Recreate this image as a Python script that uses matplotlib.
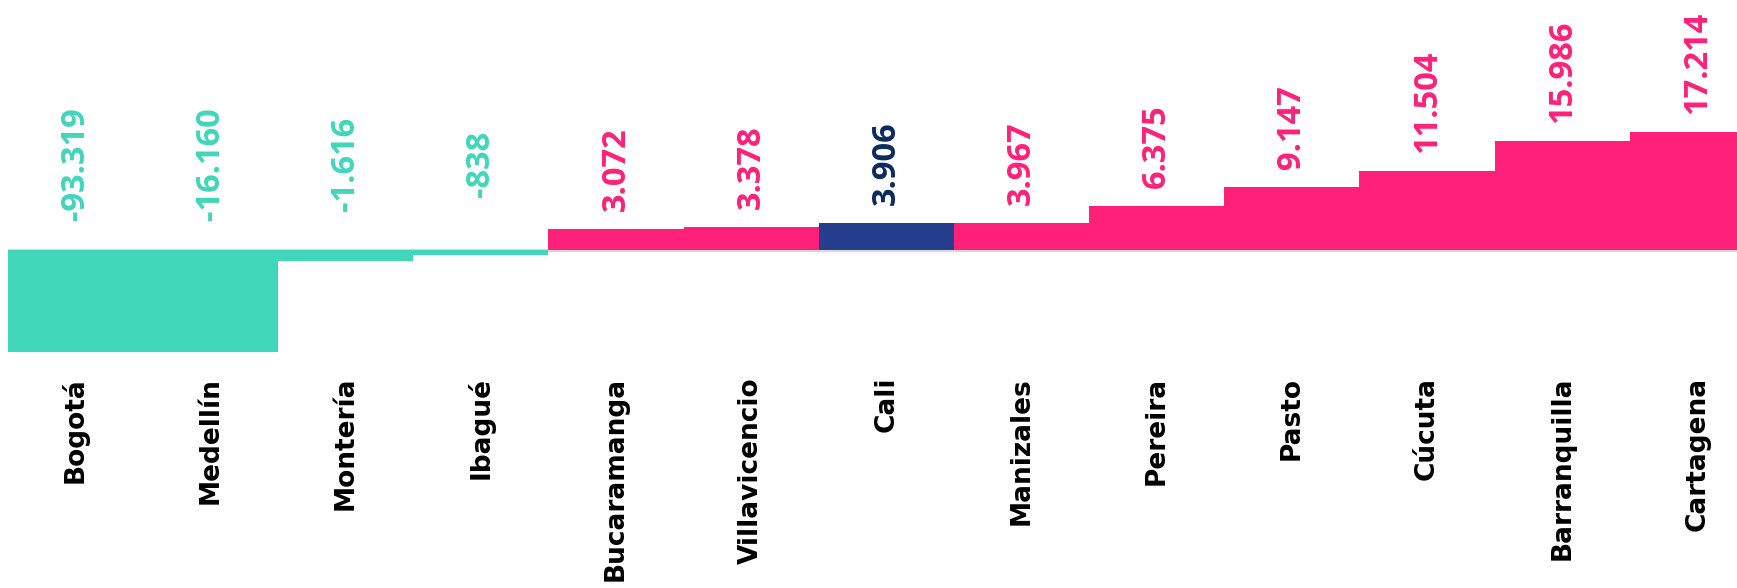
import matplotlib
matplotlib.use("Agg")
import matplotlib.pyplot as plt

# Variación por ciudad
ciudades = ["Bogotá", "Medellín", "Montería", "Ibagué", "Bucaramanga", "Villavicencio",
            "Cali", "Manizales", "Pereira", "Pasto", "Cúcuta", "Barranquilla", "Cartagena"]
valores = [-93319, -16160, -1616, -838, 3072, 3378, 3906, 3967, 6375, 9147, 11504, 15986, 17214]

TEAL = "#40D6BA"
PINK = "#FF2079"
NAVY = "#253F8E"
NAVY_TXT = "#0B2A5E"
DESTACADA = "Cali"


def fmt_miles(v):
    return f"{v:,}".replace(",", ".")


def colores(ciudad, v):
    if ciudad == DESTACADA:
        return NAVY, NAVY_TXT
    if v < 0:
        return TEAL, TEAL
    return PINK, PINK


W, H = 1737, 588
fig = plt.figure(figsize=(W / 100, H / 100), dpi=100)
ax = fig.add_axes([7.5 / W, 1 - 352 / H, 1757.6 / W, 352 / H])

x = list(range(len(ciudades)))
cols = [colores(c, v)[0] for c, v in zip(ciudades, valores)]
ax.axhline(0, color="#D9D9D9", lw=2.5, zorder=1)
ax.bar(x, valores, width=1.0, color=cols, edgecolor="none", zorder=2)

ax.set_xlim(-0.5, len(ciudades) - 0.5)
ax.set_ylim(-15000, 36600)

for xi, c, v in zip(x, ciudades, valores):
    txt_col = colores(c, v)[1]
    if v >= 0:
        ax.annotate(fmt_miles(v), (xi, v), xytext=(0, 13), textcoords="offset points",
                    rotation=90, ha="center", va="bottom", color=txt_col,
                    fontsize=23.5, fontweight="bold", family="Open Sans")
    else:
        ax.annotate(fmt_miles(v), (xi, 0), xytext=(0, 62), textcoords="offset points",
                    rotation=90, ha="center", va="center", color=txt_col,
                    fontsize=23.5, fontweight="bold", family="Open Sans")

ax.set_xticks(x)
ax.set_xticklabels(ciudades, rotation=90, va="top", ha="center",
                   fontsize=19, fontweight="bold", family="DejaVu Sans")
ax.tick_params(axis="x", length=0, pad=18)
ax.set_yticks([])
for s in ax.spines.values():
    s.set_visible(False)

fig.savefig("out.png", dpi=100, facecolor="white")
